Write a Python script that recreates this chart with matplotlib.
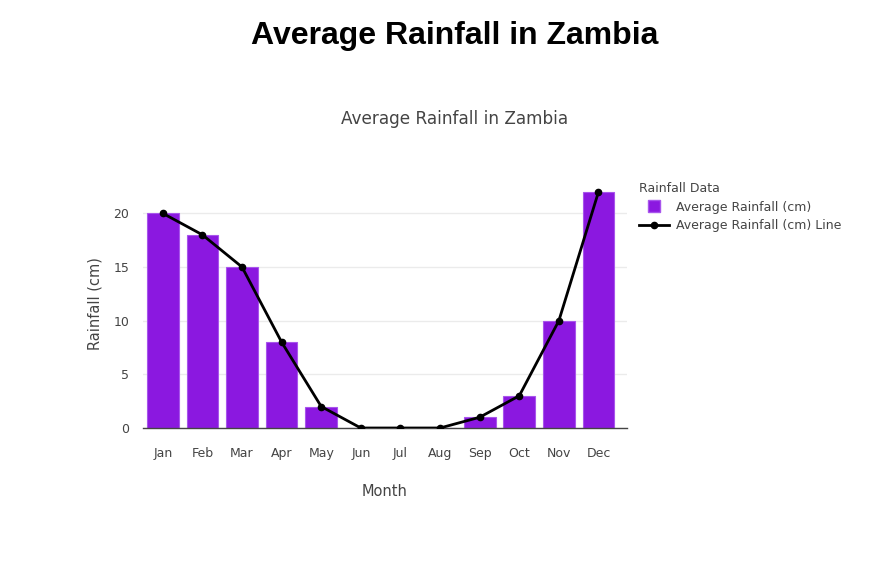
import matplotlib.pyplot as plt
from matplotlib.lines import Line2D
import numpy as np

months = ['Jan', 'Feb', 'Mar', 'Apr', 'May', 'Jun',
          'Jul', 'Aug', 'Sep', 'Oct', 'Nov', 'Dec']
rainfall = [20, 18, 15, 8, 2, 0, 0, 0, 1, 3, 10, 22]
yticks = [0, 5, 10, 15, 20]

plt.rcParams['font.family'] = 'DejaVu Sans'

fig = plt.figure(figsize=(8.75, 5.74), dpi=100)
ax = fig.add_axes([143 / 875, 1 - 428 / 574, 484 / 875, 249 / 574])

bar_color = '#8B18E0'
x = np.arange(len(months))
ax.bar(x, rainfall, width=0.8, color=bar_color, edgecolor='#A855EC',
       linewidth=0.8, zorder=2)
ax.plot(x, rainfall, color='black', linewidth=2, marker='o', markersize=4.5,
        zorder=3)

ax.set_xlim(-0.5, 11.72)
ax.set_ylim(0, 23.2)
ax.set_xticks(x)
ax.set_xticklabels(months)
ax.set_yticks(yticks)
ax.tick_params(length=0, labelsize=9, colors='#444444', pad=14)
ax.tick_params(axis='y', pad=10)
ax.grid(axis='y', color='#ebebeb', linewidth=1, zorder=0)
ax.set_axisbelow(True)
for side in ['top', 'right', 'left']:
    ax.spines[side].set_visible(False)
ax.spines['bottom'].set_color('#444444')
ax.spines['bottom'].set_linewidth(1)

ax.set_xlabel('Month', fontsize=10.5, color='#444444', labelpad=17)
ax.set_ylabel('Rainfall (cm)', fontsize=10.5, color='#444444', labelpad=8)

fig.text(455 / 875, 1 - 36 / 574, 'Average Rainfall in Zambia',
         ha='center', va='center', fontsize=23, fontweight='bold',
         family='Liberation Sans')
fig.text(455 / 875, 1 - 119 / 574, 'Average Rainfall in Zambia',
         ha='center', va='center', fontsize=12.2, color='#444444')

handles = [
    Line2D([], [], linestyle='none', marker='s', markersize=9,
           color=bar_color, markeredgecolor='#A855EC'),
    Line2D([], [], color='black', linewidth=2, marker='o', markersize=4.5),
]
labels = ['Average Rainfall (cm)', 'Average Rainfall (cm) Line']
leg = ax.legend(handles, labels, loc='upper left',
                bbox_to_anchor=(634 / 875, 1 - 177 / 574),
                bbox_transform=fig.transFigure, frameon=False,
                title='Rainfall Data', fontsize=9, title_fontsize=9,
                handlelength=2.4, handletextpad=0.6, labelspacing=0.45,
                borderaxespad=0, alignment='left')
for t in leg.get_texts():
    t.set_color('#444444')
leg.get_title().set_color('#444444')

fig.savefig('out.png', dpi=100)
